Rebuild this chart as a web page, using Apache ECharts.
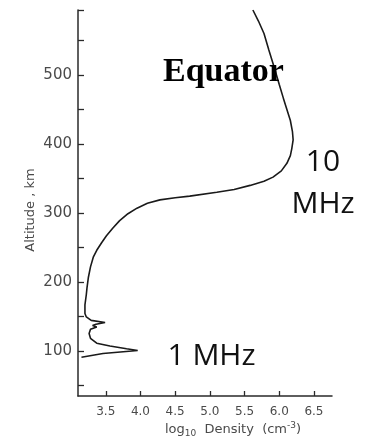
<!DOCTYPE html>
<html>
<head>
<meta charset="utf-8">
<script src="https://cdn.jsdelivr.net/npm/echarts@6/dist/echarts.min.js"></script>
<style>
html,body{margin:0;padding:0;background:#fff;}
#chart{width:369px;height:439px;}
</style>
</head>
<body>
<div id="chart"></div>
<script>
// log10 electron density (cm^-3) along the profile, bottom to top
var density = [3.15, 3.46, 3.96, 3.80, 3.56, 3.37, 3.28, 3.26, 3.28, 3.37, 3.31, 3.36, 3.49, 3.29, 3.22, 3.20,
  3.20, 3.22, 3.23, 3.25, 3.28, 3.32, 3.37, 3.44, 3.51, 3.60, 3.70, 3.82, 3.95, 4.10, 4.28, 4.50, 4.71,
  5.10, 5.35, 5.58, 5.78, 5.91, 6.03, 6.11, 6.16, 6.18, 6.20, 6.19, 6.16, 6.11, 6.06, 6.00, 5.93, 5.85, 5.78, 5.70, 5.62];
// altitude (km)
var altitude = [91, 96.5, 101, 103.5, 107.5, 111.5, 118.5, 125.5, 131.5, 135, 137, 139, 141.5, 144.5, 149.5, 154.5,
  167, 182, 192, 207, 222, 236, 246, 257, 267, 278, 289, 299, 307, 314, 319, 322, 324.5,
  330, 334, 340, 346, 352, 361, 372, 383, 393, 406, 418, 434, 450, 466, 486, 510, 536, 560, 578, 594];

var xTicks = [3.5, 4.0, 4.5, 5.0, 5.5, 6.0, 6.5];
var yLabels = [100, 200, 300, 400, 500];
var yTicks = [50, 100, 150, 200, 250, 300, 350, 400, 450, 500, 550, 594];

var points = density.map(function (d, i) { return [d, altitude[i]]; });

var chart = echarts.init(document.getElementById('chart'), null, {renderer: 'canvas'});
var axisColor = '#2a2a2a';
var labelColor = '#4a4a4a';
chart.setOption({
  animation: false,
  backgroundColor: '#ffffff',
  grid: {left: 78, right: 37, top: 10, bottom: 43, outerBoundsMode: 'none'},
  xAxis: {
    type: 'value', min: 3.1, max: 6.76,
    name: 'log{sub|10}  Density  (cm{sup|-3})',
    nameLocation: 'middle', nameGap: 25, nameMoveOverlap: false,
    nameTextStyle: {
      fontFamily: 'DejaVu Sans', fontSize: 13, color: labelColor, padding: [0, 0, 0, 56],
      rich: {
        sub: {fontFamily: 'DejaVu Sans', fontSize: 9, color: labelColor, verticalAlign: 'bottom', padding: [8, 0, 0, 0]},
        sup: {fontFamily: 'DejaVu Sans', fontSize: 9, color: labelColor, verticalAlign: 'top', padding: [0, 0, 6, 0]}
      }
    },
    axisLine: {show: true, onZero: false, lineStyle: {color: axisColor, width: 1.5}},
    axisTick: {show: true, inside: true, length: 5, customValues: xTicks, lineStyle: {color: axisColor, width: 1.3}},
    axisLabel: {
      customValues: xTicks, margin: 10, fontFamily: 'DejaVu Sans', fontSize: 12, color: labelColor,
      formatter: function (v) { return v.toFixed(1); }
    },
    splitLine: {show: false}
  },
  yAxis: {
    type: 'value', min: 35, max: 594,
    name: 'Altitude , km',
    nameLocation: 'middle', nameGap: 41, nameRotate: 90, nameMoveOverlap: false,
    nameTextStyle: {fontFamily: 'DejaVu Sans', fontSize: 13, color: labelColor, padding: [0, 14, 0, 0]},
    axisLine: {show: true, onZero: false, lineStyle: {color: axisColor, width: 1.5}},
    axisTick: {show: true, inside: true, length: 6, customValues: yTicks, lineStyle: {color: axisColor, width: 1.3}},
    axisLabel: {customValues: yLabels, margin: 6, fontFamily: 'DejaVu Sans', fontSize: 15, color: labelColor},
    splitLine: {show: false}
  },
  series: [{
    type: 'line',
    data: points,
    showSymbol: false,
    smooth: false,
    lineStyle: {color: '#1a1a1a', width: 1.6},
    z: 3
  }],
  graphic: [
    {type: 'text', left: 163, top: 55, z: 10, style: {text: 'Equator', font: 'bold 34px "Liberation Serif"', fill: '#000', textVerticalAlign: 'middle'}},
    {type: 'text', x: 323, y: 162, z: 10, style: {text: '10', font: '30px "Open Sans"', fill: '#111', textAlign: 'center', textVerticalAlign: 'middle'}},
    {type: 'text', x: 323, y: 204.5, z: 10, style: {text: 'MHz', font: '30px "Open Sans"', fill: '#111', textAlign: 'center', textVerticalAlign: 'middle'}},
    {type: 'text', x: 211.5, y: 356, z: 10, style: {text: '1 MHz', font: '30px "Open Sans"', fill: '#111', textAlign: 'center', textVerticalAlign: 'middle'}}
  ]
});
</script>
</body>
</html>
